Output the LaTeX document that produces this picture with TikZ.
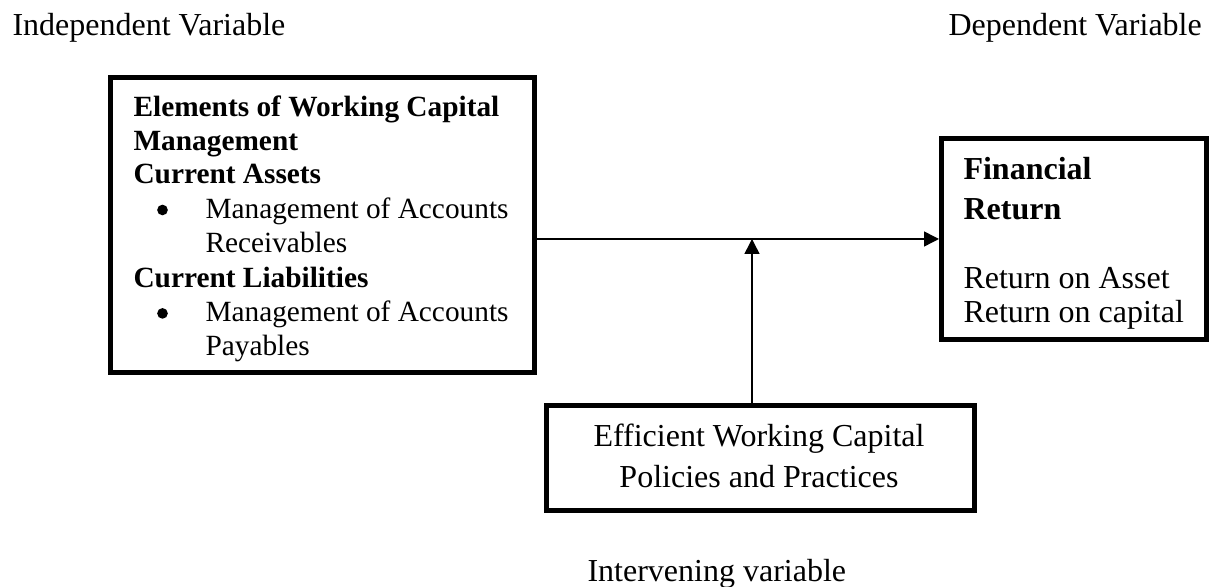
\documentclass[tikz,border=0pt]{standalone}
\usepackage{fontspec}
\setmainfont{Liberation Serif}
\usetikzlibrary{arrows.meta}

\tikzset{
  frame/.style={draw, line width=1.875pt, rectangle, inner sep=0pt, fill=white},
  txt/.style={anchor=base west, inner sep=0pt, font=\fontsize{12}{14}\selectfont},
  small/.style={anchor=base west, inner sep=0pt, font=\fontsize{11}{13}\selectfont},
  smallb/.style={small, font=\fontsize{11}{13}\selectfont\bfseries},
  bigb/.style={txt, font=\fontsize{12}{14}\selectfont\bfseries},
  dot/.style={anchor=center, inner sep=0pt, circle, fill, minimum size=4pt},
  link/.style={line width=0.55pt, -{Triangle[length=5.6pt, width=5.6pt]}}
}

\begin{document}
\begin{tikzpicture}[x=0.375pt, y=-0.375pt]
  \useasboundingbox (0,0) rectangle (1213,587);

  % column headings
  \node[txt] (indep) at (12,36) {Independent Variable};
  \node[txt] (dep) at (948,36) {Dependent Variable};

  % frames
  \node[frame, minimum width=424*0.375pt, minimum height=295*0.375pt] (lbox) at (322.5,225) {};
  \node[frame, minimum width=265*0.375pt, minimum height=201*0.375pt] (rbox) at (1074,239) {};
  \node[frame, minimum width=428*0.375pt, minimum height=105*0.375pt] (bbox) at (760.5,458) {};

  % independent variable contents
  \node[smallb] (l1) at (133,116.7) {Elements of Working Capital};
  \node[smallb] (l2) at (133,151) {Management};
  \node[smallb] (l3) at (133,183.3) {Current Assets};
  \node[dot] (b1) at (162.5,210) {};
  \node[small] (l4) at (205,218.3) {Management of Accounts};
  \node[small] (l5) at (205,252.7) {Receivables};
  \node[smallb] (l6) at (133,287.3) {Current Liabilities};
  \node[dot] (b2) at (162.5,313.4) {};
  \node[small] (l7) at (205,321.7) {Management of Accounts};
  \node[small] (l8) at (205,356) {Payables};

  % dependent variable contents
  \node[bigb] (r1) at (963,179.3) {Financial};
  \node[bigb] (r2) at (963,220) {Return};
  \node[txt] (r3) at (963,289) {Return on Asset};
  \node[txt] (r4) at (963,323) {Return on capital};

  % intervening variable contents
  \node[inner sep=0pt, anchor=base, font=\fontsize{12}{14}\selectfont] (m1) at (759,446.7) {Efficient Working Capital};
  \node[inner sep=0pt, anchor=base, font=\fontsize{12}{14}\selectfont] (m2) at (759,487.7) {Policies and Practices};
  \node[txt] (interv) at (587,582) {Intervening variable};

  % connectors
  \coordinate (join) at (752,239);
  \draw[link] (lbox.east |- rbox.west) -- (rbox.west);
  \draw[link] (bbox.north -| join) -- (join);
\end{tikzpicture}
\end{document}
